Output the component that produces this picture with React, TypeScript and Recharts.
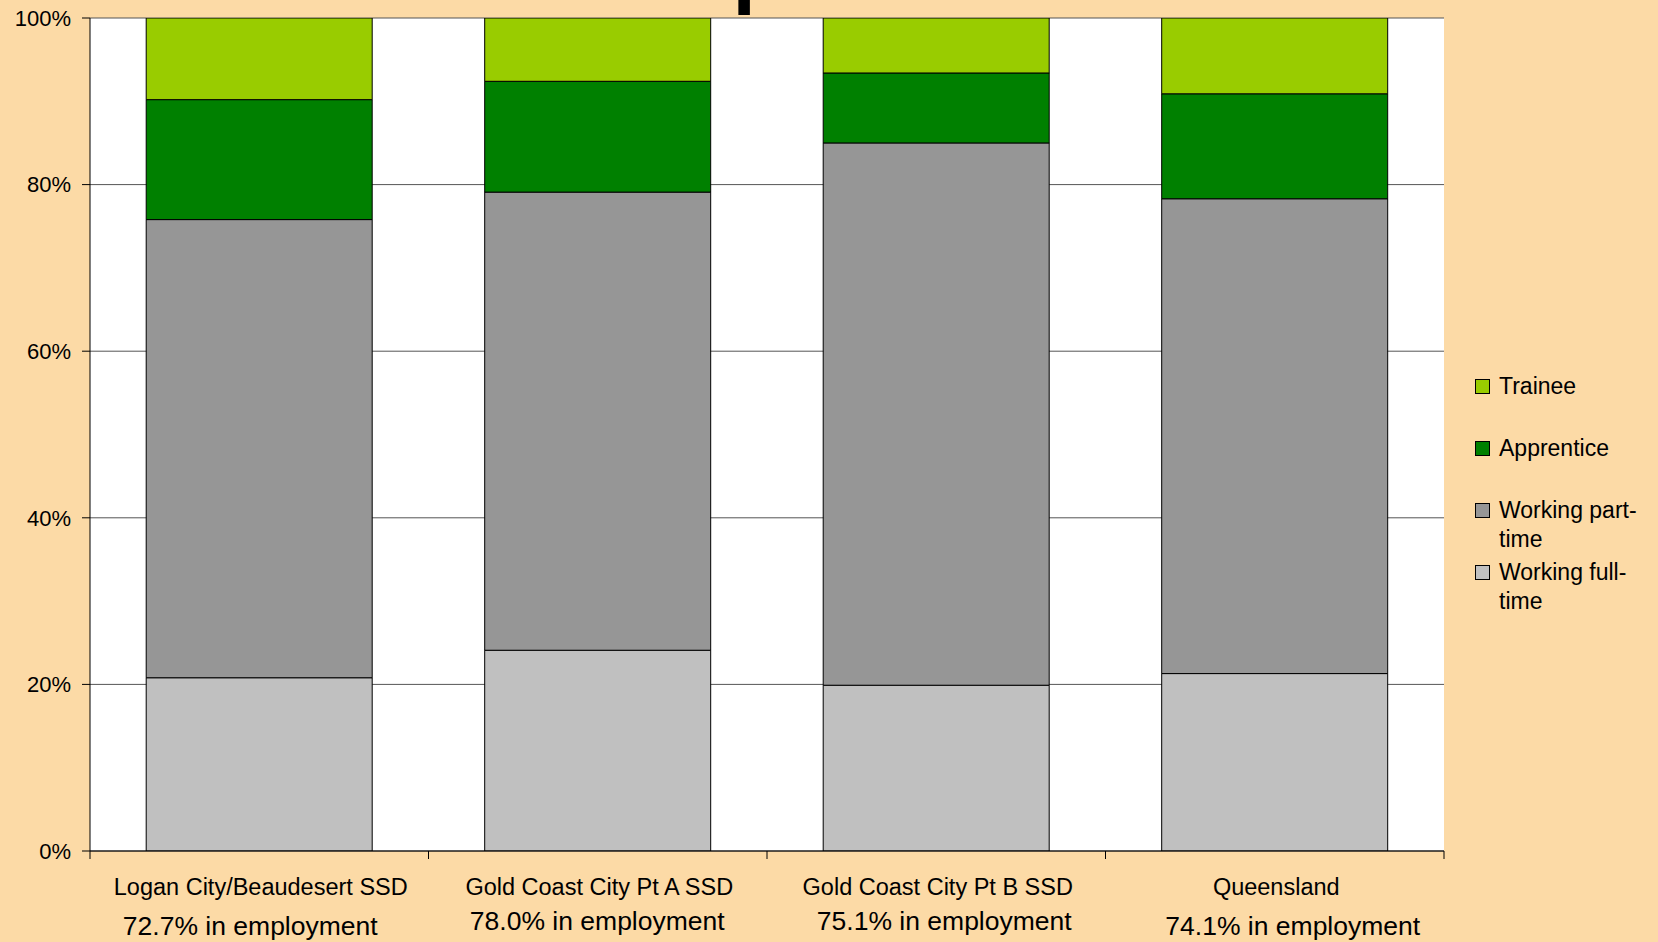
import React from 'react';
import { BarChart, Bar, XAxis, YAxis, CartesianGrid } from 'recharts';

const categories = [
  'Logan City/Beaudesert SSD',
  'Gold Coast City Pt A SSD',
  'Gold Coast City Pt B SSD',
  'Queensland',
];
const employmentLabels = [
  '72.7% in employment',
  '78.0% in employment',
  '75.1% in employment',
  '74.1% in employment',
];
const fullTime = [20.8, 24.1, 19.9, 21.3];
const partTime = [55.0, 55.0, 65.1, 57.0];
const apprentice = [14.4, 13.3, 8.4, 12.6];
const trainee = [9.8, 7.6, 6.6, 9.1];
const yTicks = [0, 20, 40, 60, 80, 100];

const seriesKeys = ['fullTime', 'partTime', 'apprentice', 'trainee'];
const seriesNames = ['Working full-time', 'Working part-time', 'Apprentice', 'Trainee'];
const seriesColors = ['#C0C0C0', '#969696', '#008000', '#99CC00'];
const legendLines = [['Trainee'], ['Apprentice'], ['Working part-', 'time'], ['Working full-', 'time']];
const legendColors = ['#99CC00', '#008000', '#969696', '#C0C0C0'];

// label box offsets (layout only)
const empDx = [-9, -0.5, 8, 18];
const empDy = [74.5, 70, 70, 74.5];

const data = categories.map((c, i) => ({
  category: c,
  fullTime: fullTime[i],
  partTime: partTime[i],
  apprentice: apprentice[i],
  trainee: trainee[i],
}));

const FONT = '"Liberation Sans", Arial, Helvetica, sans-serif';
const W = 1658;
const H = 942;
const PLOT_LEFT = 90;
const PLOT_RIGHT = 1444;
const PLOT_TOP = 18;
const PLOT_BOTTOM = 851;
const CAT_W = (PLOT_RIGHT - PLOT_LEFT) / categories.length;

function XTick(props: any) {
  const { x, y, payload, index } = props;
  const idx = typeof index === 'number' ? index : payload?.index ?? 0;
  return (
    <g>
      <line x1={x - CAT_W / 2} x2={x - CAT_W / 2} y1={y} y2={y + 8} stroke="#000" strokeWidth={1} />
      {idx === categories.length - 1 && (
        <line x1={x + CAT_W / 2} x2={x + CAT_W / 2} y1={y} y2={y + 8} stroke="#000" strokeWidth={1} />
      )}
      <text x={x + 1.5} y={y + 35.5} textAnchor="middle" dominantBaseline="central" fontSize={23.5} fontFamily={FONT} fill="#000">
        {payload.value}
      </text>
      <text
        x={x + empDx[idx]}
        y={y + empDy[idx]}
        textAnchor="middle"
        dominantBaseline="central"
        fontSize={26.5}
        fontFamily={FONT}
        fill="#000"
      >
        {employmentLabels[idx]}
      </text>
    </g>
  );
}

export default function App() {
  return (
    <div
      style={{
        position: 'fixed',
        left: 0,
        top: 0,
        width: W,
        height: H,
        background: '#FCDAA6',
        overflow: 'hidden',
        fontFamily: FONT,
      }}
    >
      <svg style={{ position: 'absolute', left: 0, top: 0 }} width={W} height={30}>
        <text x={732.5} y={-2.5} fontSize={84} fontWeight="bold" fontFamily={FONT} fill="#000">
          p
        </text>
      </svg>
      <BarChart
        width={W}
        height={H}
        data={data}
        margin={{ top: PLOT_TOP, right: W - PLOT_RIGHT, bottom: 0, left: 0 }}
        barCategoryGap="16.6%"
      >
        <CartesianGrid yAxisId="left" vertical={false} stroke="#555" strokeWidth={1} fill="#FFFFFF" />
        <XAxis
          dataKey="category"
          height={H - PLOT_BOTTOM}
          axisLine={{ stroke: '#000', strokeWidth: 1 }}
          tickLine={false}
          tickSize={0}
          tickMargin={0}
          tick={<XTick />}
          interval={0}
        />
        <YAxis
          yAxisId="left"
          width={PLOT_LEFT}
          domain={[0, 100]}
          ticks={yTicks}
          tickFormatter={(v: number) => `${v}%`}
          tick={{ fontSize: 22, fill: '#000', fontFamily: FONT }}
          axisLine={{ stroke: '#000', strokeWidth: 1 }}
          tickLine={{ stroke: '#000', strokeWidth: 1 }}
          tickSize={8}
          tickMargin={11}
          allowDataOverflow
        />
        <YAxis
          yAxisId="right"
          orientation="right"
          width={0}
          domain={[0, 100]}
          tick={false}
          tickLine={false}
          axisLine={{ stroke: '#808080', strokeWidth: 1 }}
        />
        {seriesKeys.map((k, i) => (
          <Bar
            key={k}
            yAxisId="left"
            dataKey={k}
            name={seriesNames[i]}
            stackId="a"
            fill={seriesColors[i]}
            stroke="#000"
            strokeWidth={1}
            isAnimationActive={false}
          />
        ))}
      </BarChart>
      {legendLines.map((lines, i) => {
        const cy = 386 + i * 62.3;
        return (
          <div key={i} style={{ position: 'absolute', left: 1475, top: cy - 14.5 }}>
            <div
              style={{
                position: 'absolute',
                left: 0,
                top: 7,
                width: 13,
                height: 13,
                background: legendColors[i],
                border: '1px solid #000',
              }}
            />
            <div
              style={{
                position: 'absolute',
                left: 24,
                top: 0,
                fontSize: 23,
                lineHeight: '29px',
                color: '#000',
                whiteSpace: 'nowrap',
                fontFamily: FONT,
              }}
            >
              {lines.map((l, j) => (
                <div key={j}>{l}</div>
              ))}
            </div>
          </div>
        );
      })}
    </div>
  );
}
